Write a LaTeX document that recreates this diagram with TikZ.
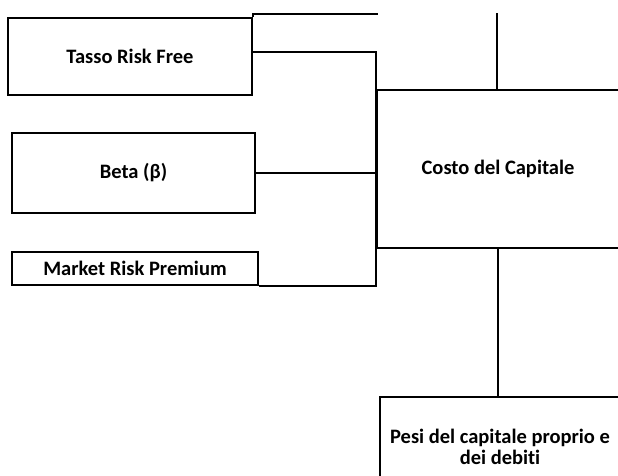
\documentclass[tikz,border=0pt]{standalone}
\usepackage{fontspec}
\setmainfont{Carlito}[Ligatures=NoCommon]
\begin{document}
\begin{tikzpicture}[x=1pt,y=-1pt,
  box/.style={draw, line width=1.8pt, inner sep=0pt, font=\bfseries\fontsize{20.5}{21}\selectfont, align=center},
  wire/.style={line width=1.8pt}]
\clip (0,0) rectangle (618,475);
\fill[white] (0,0) rectangle (618,475);
\node[box, minimum width=244, minimum height=77] (tasso) at (130,56.5) {Tasso Risk Free};
\node[box, minimum width=243, minimum height=80] (beta) at (133.5,173) {Beta (β)};
\node[box, minimum width=246, minimum height=33] (market) at (135,268.5) {Market Risk Premium};
\node[box, minimum width=242, minimum height=158] (costo) at (498,169) {Costo del Capitale};
\node[box, minimum width=240, minimum height=100] (pesi) at (500,447) {Pesi del capitale proprio e\\dei debiti};
\coordinate (topA) at (378,14);
\coordinate (topB) at (497,13);
\coordinate (tin) at ([yshift=4.5pt]tasso.east);
\draw[wire] (tasso.north east) |- (topA);
\draw[wire] (topB) -- (topB |- costo.north);
\draw[wire] (tin) -- (tin -| costo.west) -- (market.south east -| costo.west) -- (market.south east);
\draw[wire] (beta.east) -- (beta.east -| costo.west);
\draw[wire] (costo.south) -- (costo.south |- pesi.north);
\end{tikzpicture}
\end{document}
